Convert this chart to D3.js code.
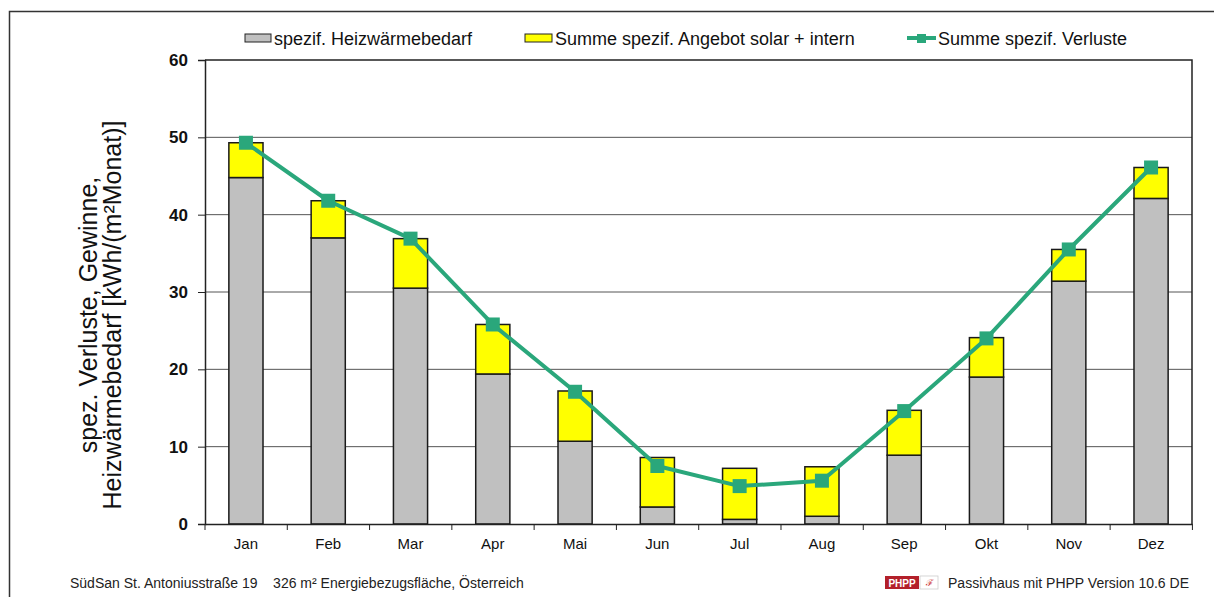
<!DOCTYPE html>
<html>
<head>
<meta charset="utf-8">
<script src="https://cdn.jsdelivr.net/npm/d3@7"></script>
<style>
  html, body { margin: 0; padding: 0; background: #fff; }
  svg { display: block; font-family: "Liberation Sans", Arial, sans-serif; }
</style>
</head>
<body>
<svg id="chart" width="1214" height="597"></svg>
<script>
// Monthly specific values in kWh/(m²·month)
const months = ["Jan", "Feb", "Mar", "Apr", "Mai", "Jun", "Jul", "Aug", "Sep", "Okt", "Nov", "Dez"];
const heizwaermebedarf = [44.8, 37.0, 30.5, 19.4, 10.7, 2.2, 0.6, 1.0, 8.9, 19.0, 31.4, 42.1];
const angebotSolarIntern = [4.5, 4.8, 6.4, 6.4, 6.5, 6.4, 6.6, 6.4, 5.8, 5.1, 4.1, 4.0];
const verluste = [49.3, 41.8, 36.9, 25.8, 17.1, 7.5, 4.9, 5.6, 14.6, 24.0, 35.5, 46.1];
const yTicks = [0, 10, 20, 30, 40, 50, 60];

const svg = d3.select("#chart");
const plot = { left: 205, right: 1192, top: 60, bottom: 524 };

// Outer frame
svg.append("rect")
  .attr("x", 9.5).attr("y", 11.5)
  .attr("width", 1220).attr("height", 600)
  .attr("fill", "none").attr("stroke", "#333").attr("stroke-width", 1.5);

const x = d3.scaleBand().domain(months).range([plot.left, plot.right]).paddingInner(0.585).paddingOuter(0.29);
const y = d3.scaleLinear().domain([0, 60]).range([plot.bottom, plot.top]);

// Horizontal grid lines
svg.append("g").selectAll("line").data(yTicks.filter(d => d > 0 && d < 60)).join("line")
  .attr("x1", plot.left).attr("x2", plot.right)
  .attr("y1", d => y(d)).attr("y2", d => y(d))
  .attr("stroke", "#555").attr("stroke-width", 1);

// Plot frame (top and right)
svg.append("path")
  .attr("d", `M${plot.left},${plot.top}H${plot.right}V${plot.bottom}`)
  .attr("fill", "none").attr("stroke", "#222").attr("stroke-width", 1.5);

// Stacked bars
const stackData = months.map((m, i) => ({ m, h: heizwaermebedarf[i], s: angebotSolarIntern[i] }));
const bars = svg.append("g");
bars.selectAll("rect.h").data(stackData).join("rect").attr("class", "h")
  .attr("x", d => x(d.m)).attr("width", x.bandwidth())
  .attr("y", d => y(d.h)).attr("height", d => y(0) - y(d.h))
  .attr("fill", "#c0c0c0").attr("stroke", "#1a1a1a").attr("stroke-width", 1.5);
bars.selectAll("rect.s").data(stackData).join("rect").attr("class", "s")
  .attr("x", d => x(d.m)).attr("width", x.bandwidth())
  .attr("y", d => y(d.h + d.s)).attr("height", d => y(d.h) - y(d.h + d.s))
  .attr("fill", "#ffff00").attr("stroke", "#1a1a1a").attr("stroke-width", 1.5);

// Y axis
const yAxis = d3.axisLeft(y).tickValues(yTicks).tickSize(7).tickPadding(10);
const gy = svg.append("g").attr("transform", `translate(${plot.left},0)`).call(yAxis);
gy.select(".domain").attr("stroke", "#222").attr("stroke-width", 1.5);
gy.selectAll(".tick line").attr("stroke", "#222");
gy.selectAll(".tick text").attr("font-size", 17).attr("font-weight", "bold").attr("fill", "#111")
  .attr("font-family", "Liberation Sans, Arial, sans-serif");

// X axis: ticks between categories
const xAxis = d3.axisBottom(x).tickSize(0).tickPadding(14);
const gx = svg.append("g").attr("transform", `translate(0,${plot.bottom})`).call(xAxis);
gx.select(".domain").attr("stroke", "#222").attr("stroke-width", 1.5);
gx.selectAll(".tick text").attr("font-size", 15).attr("fill", "#111")
  .attr("font-family", "Liberation Sans, Arial, sans-serif");
const step = x.step();
svg.append("g").selectAll("line").data(d3.range(13)).join("line")
  .attr("x1", i => plot.left + i * step).attr("x2", i => plot.left + i * step)
  .attr("y1", plot.bottom).attr("y2", plot.bottom + 6)
  .attr("stroke", "#222").attr("stroke-width", 1);

// Loss line with square markers
const cx = m => x(m) + x.bandwidth() / 2;
const lineGen = d3.line().x((d, i) => cx(months[i])).y(d => y(d));
svg.append("path").datum(verluste)
  .attr("d", lineGen).attr("fill", "none")
  .attr("stroke", "#2aa77b").attr("stroke-width", 4).attr("stroke-linejoin", "round");
svg.append("g").selectAll("rect").data(verluste).join("rect")
  .attr("x", (d, i) => cx(months[i]) - 7).attr("y", d => y(d) - 7)
  .attr("width", 14).attr("height", 14).attr("fill", "#2aa77b");

// Y axis title
const yTitle = svg.append("text")
  .attr("transform", "rotate(-90)")
  .attr("font-size", 25).attr("fill", "#111").attr("text-anchor", "middle");
yTitle.append("tspan").attr("x", -315).attr("y", 97).text("spez. Verluste, Gewinne,");
yTitle.append("tspan").attr("x", -315).attr("y", 121).text("Heizwärmebedarf [kWh/(m²Monat)]");

// Legend
const legend = svg.append("g").attr("font-size", 18).attr("fill", "#111");
legend.append("rect").attr("x", 245).attr("y", 34).attr("width", 26).attr("height", 8)
  .attr("fill", "#c0c0c0").attr("stroke", "#222").attr("stroke-width", 1);
legend.append("text").attr("x", 274).attr("y", 45).text("spezif. Heizwärmebedarf");
legend.append("rect").attr("x", 525).attr("y", 34).attr("width", 27).attr("height", 8)
  .attr("fill", "#ffff00").attr("stroke", "#222").attr("stroke-width", 1);
legend.append("text").attr("x", 555).attr("y", 45).text("Summe spezif. Angebot solar + intern");
legend.append("line").attr("x1", 907).attr("x2", 936).attr("y1", 38).attr("y2", 38)
  .attr("stroke", "#2aa77b").attr("stroke-width", 4);
legend.append("rect").attr("x", 917).attr("y", 34).attr("width", 9).attr("height", 9).attr("fill", "#2aa77b");
legend.append("text").attr("x", 938).attr("y", 45).text("Summe spezif. Verluste");

// Footer
svg.append("text").attr("x", 70).attr("y", 588).attr("font-size", 14).attr("fill", "#222")
  .attr("xml:space", "preserve")
  .text("SüdSan St. Antoniusstraße 19    326 m² Energiebezugsfläche, Österreich");
svg.append("rect").attr("x", 885).attr("y", 576).attr("width", 34).attr("height", 13).attr("fill", "#b3202a");
svg.append("text").attr("x", 902).attr("y", 587).attr("font-size", 10).attr("font-weight", "bold")
  .attr("fill", "#fff").attr("text-anchor", "middle").text("PHPP");
svg.append("rect").attr("x", 920).attr("y", 576).attr("width", 18).attr("height", 13)
  .attr("fill", "#fff").attr("stroke", "#ccc").attr("stroke-width", 0.8);
svg.append("text").attr("x", 929).attr("y", 586).attr("font-size", 9).attr("fill", "#c33")
  .attr("text-anchor", "middle").text("ℱ");
svg.append("text").attr("x", 948).attr("y", 588).attr("font-size", 14).attr("fill", "#222")
  .attr("textLength", 241).attr("lengthAdjust", "spacingAndGlyphs")
  .text("Passivhaus mit PHPP Version 10.6 DE");
</script>
</body>
</html>
